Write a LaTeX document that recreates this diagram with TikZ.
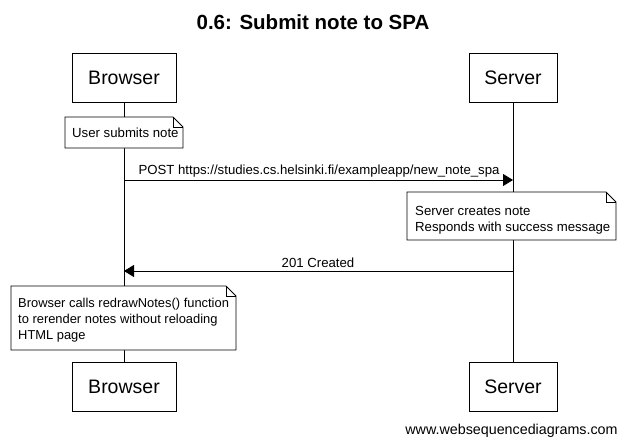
\documentclass[tikz,border=0pt]{standalone}
\usepackage{fontspec}
\setmainfont{Liberation Sans}
\usetikzlibrary{arrows.meta}
\begin{document}
\begin{tikzpicture}[x=1pt,y=-1pt,
  actor/.style={draw,line width=0.8pt,minimum width=104pt,minimum height=49pt,inner sep=0pt,font=\fontsize{19.5}{23}\selectfont},
  notetext/.style={align=left,font=\fontsize{13.2}{16}\selectfont,inner sep=0pt},
  msg/.style={line width=0.8pt,-{Triangle[length=10pt,width=12pt]}},
  msglabel/.style={font=\fontsize{13.2}{16}\selectfont,inner sep=0pt},
  life/.style={line width=0.8pt}]
\useasboundingbox (0,0) rectangle (626,447);
\fill[white] (0,0) rectangle (626,447);
\node[font=\bfseries\fontsize{20.5}{24}\selectfont] (title) at (313,22) {0.6: Submit note to SPA};
\node[actor] (btop) at (124,77.5) {Browser};
\node[actor,minimum width=88pt] (stop) at (513,77.5) {Server};
\node[actor] (bbot) at (124,386.5) {Browser};
\node[actor,minimum width=88pt] (sbot) at (513,386.5) {Server};
\draw[life] (btop.south) -- (bbot.north);
\draw[life] (stop.south) -- (sbot.north);
\newcommand{\drawnote}[4]{%
  \filldraw[fill=white,line width=0.8pt] (#1,#2) -- (#3-10,#2) -- (#3,#2+10) -- (#3,#4) -- (#1,#4) -- cycle;
  \draw[line width=0.8pt] (#3-10,#2) -- (#3-10,#2+10) -- (#3,#2+10);}
\drawnote{65}{117}{183}{148}
\node[notetext,anchor=west] (n1) at (72,132.5) {User submits note};
\coordinate (m1a) at (124,180);
\coordinate (m1b) at (513,180);
\draw[msg] (m1a) -- (m1b);
\node[msglabel] (l1) at (319,171) {POST https://studies.cs.helsinki.fi/exampleapp/new\_note\_spa};
\drawnote{407}{192}{616}{240}
\node[notetext,anchor=north west] (n2) at (415,206) {Server creates note\\Responds with success message};
\coordinate (m2a) at (513,271);
\coordinate (m2b) at (124,271);
\draw[msg] (m2a) -- (m2b);
\node[msglabel] (l2) at (318,263) {201 Created};
\drawnote{11}{286}{236}{350}
\node[notetext,anchor=north west,font=\fontsize{12.9}{16}\selectfont] (n3) at (18,298) {Browser calls redrawNotes() function\\to rerender notes without reloading\\HTML page};
\node[font=\fontsize{14.3}{17}\selectfont,inner sep=0pt] (wm) at (511.5,431) {www.websequencediagrams.com};
\end{tikzpicture}
\end{document}
